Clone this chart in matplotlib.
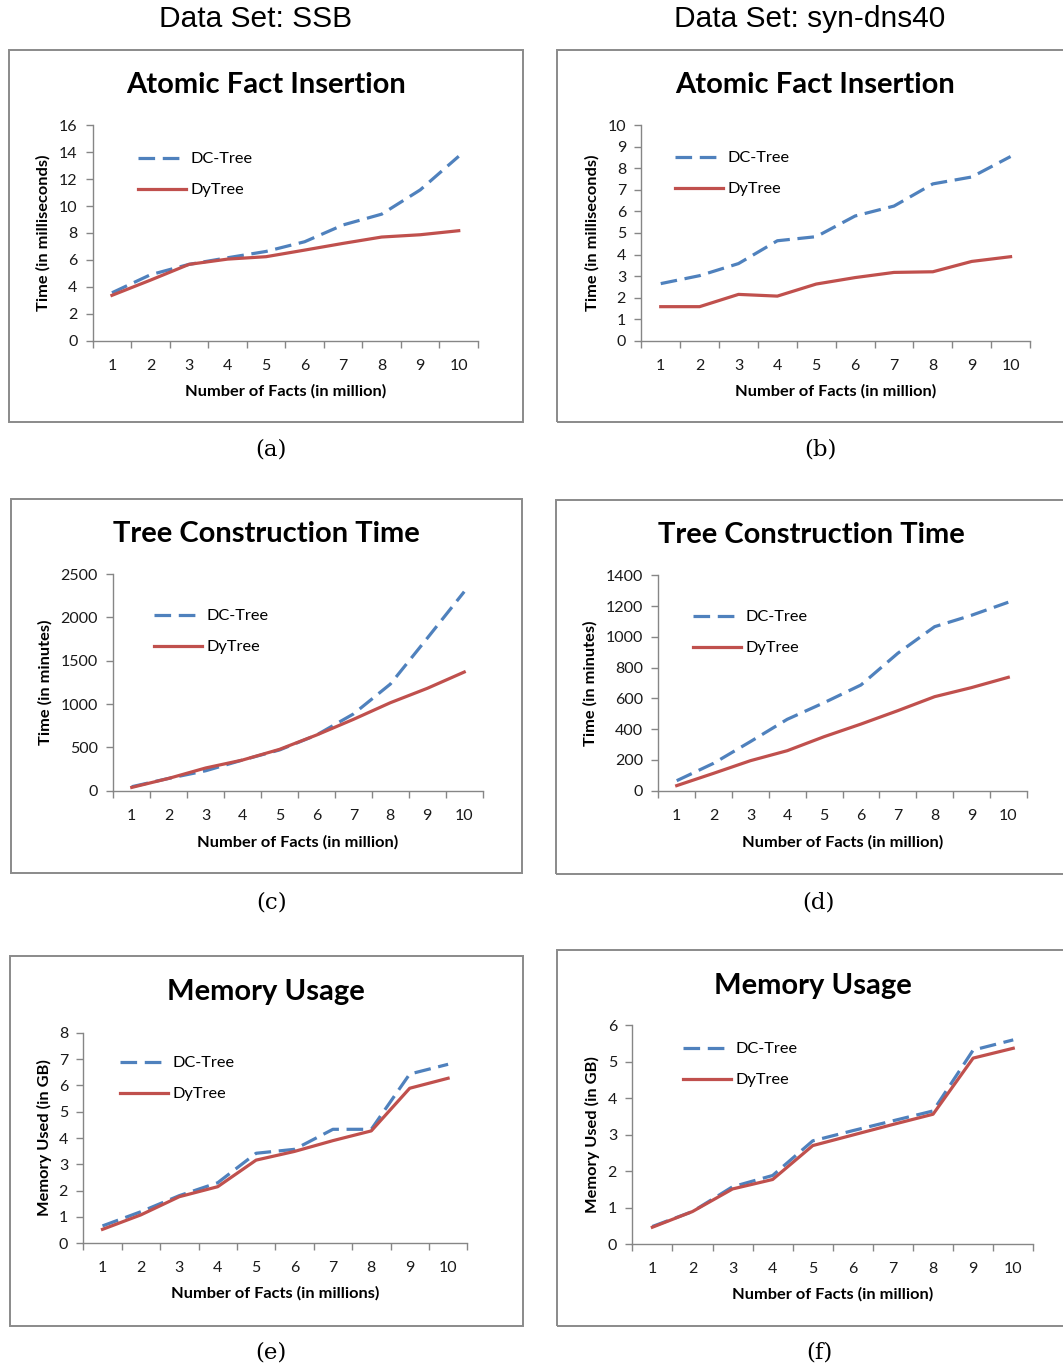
import matplotlib
matplotlib.use("Agg")
import matplotlib.pyplot as plt
from matplotlib.patches import Rectangle

# ---------------- data ----------------
facts = [1, 2, 3, 4, 5, 6, 7, 8, 9, 10]
tick_labels = ["1", "2", "3", "4", "5", "6", "7", "8", "9", "10"]

ssb_insert_dc = [3.56, 4.9, 5.67, 6.16, 6.63, 7.35, 8.6, 9.4, 11.2, 13.7]
ssb_insert_dy = [3.37, 4.5, 5.67, 6.06, 6.24, 6.73, 7.23, 7.7, 7.87, 8.17]

dns_insert_dc = [2.65, 3.02, 3.58, 4.64, 4.83, 5.79, 6.25, 7.28, 7.6, 8.55]
dns_insert_dy = [1.58, 1.58, 2.15, 2.07, 2.63, 2.93, 3.17, 3.2, 3.68, 3.9]

ssb_build_dc = [46, 142, 230, 354, 470, 642, 885, 1230, 1760, 2296]
ssb_build_dy = [38, 142, 262, 354, 477, 642, 823, 1015, 1181, 1369]

dns_build_dc = [65, 178, 319, 464, 572, 687, 893, 1066, 1140, 1225]
dns_build_dy = [33, 113, 195, 260, 351, 433, 520, 611, 670, 737]

ssb_mem_dc = [0.66, 1.2, 1.81, 2.3, 3.42, 3.57, 4.33, 4.33, 6.43, 6.8]
ssb_mem_dy = [0.53, 1.08, 1.77, 2.15, 3.16, 3.49, 3.9, 4.27, 5.89, 6.27]

dns_mem_dc = [0.48, 0.89, 1.57, 1.88, 2.83, 3.11, 3.38, 3.65, 5.32, 5.6]
dns_mem_dy = [0.46, 0.89, 1.51, 1.77, 2.7, 2.99, 3.28, 3.56, 5.1, 5.37]

series_names = ["DC-Tree", "DyTree"]
column_titles = ["Data Set: SSB", "Data Set: syn-dns40"]
captions = ["(a)", "(b)", "(c)", "(d)", "(e)", "(f)"]

# ---------------- layout ----------------
W, H = 1063, 1370
fig = plt.figure(figsize=(W / 100, H / 100), dpi=100)
fig.patch.set_facecolor("white")

def fx(x):
    return x / W

def fy(y):
    return 1 - y / H

AX_COLOR = "#868686"
BLUE = "#4F81BD"
RED = "#C0504D"
FONT = ["Lato", "DejaVu Sans"]
TICK_FS = 11.5
LAB_FS = 11.8
LEG_FS = 11.8

panels = [
    dict(frame=(9, 50, 523, 422), ax=(92.7, 478, 125.3, 340.7), ymax=16, step=2,
         dc=ssb_insert_dc, dy=ssb_insert_dy, title="Atomic Fact Insertion", tpos=(266, 85),
         ylabel="Time (in milliseconds)", ylx=43, xlabel="Number of Facts (in million)",
         xly=391, leg=(138, 158), cap=(271, 450)),
    dict(frame=(557, 50, 1068, 422), ax=(641.3, 1030, 125.3, 340.7), ymax=10, step=1,
         dc=dns_insert_dc, dy=dns_insert_dy, title="Atomic Fact Insertion", tpos=(815, 85),
         ylabel="Time (in milliseconds)", ylx=592, xlabel="Number of Facts (in million)",
         xly=391, leg=(675, 157), cap=(820, 450)),
    dict(frame=(11, 499, 522, 873), ax=(113.3, 482.7, 574, 790.7), ymax=2500, step=500,
         dc=ssb_build_dc, dy=ssb_build_dy, title="Tree Construction Time", tpos=(266, 534),
         ylabel="Time (in minutes)", ylx=45, xlabel="Number of Facts (in million)",
         xly=842, leg=(154, 615), cap=(272, 902)),
    dict(frame=(556, 500, 1068, 874), ax=(658.3, 1026.7, 575.3, 790.7), ymax=1400, step=200,
         dc=dns_build_dc, dy=dns_build_dy, title="Tree Construction Time", tpos=(811, 535),
         ylabel="Time (in minutes)", ylx=590, xlabel="Number of Facts (in million)",
         xly=842, leg=(693, 616), cap=(818, 902)),
    dict(frame=(10, 956, 523, 1326), ax=(83.3, 467.3, 1032.7, 1243.3), ymax=8, step=1,
         dc=ssb_mem_dc, dy=ssb_mem_dy, title="Memory Usage", tpos=(266, 992),
         ylabel="Memory Used (in GB)", ylx=44, xlabel="Number of Facts (in millions)",
         xly=1293, leg=(120, 1062), cap=(271, 1353)),
    dict(frame=(557, 950, 1068, 1326), ax=(632.3, 1033.3, 1025.3, 1244), ymax=6, step=1,
         dc=dns_mem_dc, dy=dns_mem_dy, title="Memory Usage", tpos=(813, 986),
         ylabel="Memory Used (in GB)", ylx=592, xlabel="Number of Facts (in million)",
         xly=1294, leg=(683, 1048), cap=(819, 1353)),
]

# column titles
fig.text(fx(256), fy(19), column_titles[0], ha="center", va="center",
         fontsize=21.5, family=["Liberation Sans", "DejaVu Sans"])
fig.text(fx(810), fy(19), column_titles[1], ha="center", va="center",
         fontsize=21.5, family=["Liberation Sans", "DejaVu Sans"])

for i, p in enumerate(panels):
    x0, y0, x1, y1 = p["frame"]
    fig.add_artist(Rectangle((fx(x0), fy(y1)), fx(x1) - fx(x0), fy(y0) - fy(y1),
                             transform=fig.transFigure, fill=False,
                             edgecolor="#8a8a8a", linewidth=1.4, zorder=0))
    l, r, t, b = p["ax"]
    ax = fig.add_axes([fx(l), fy(b), fx(r) - fx(l), fy(t) - fy(b)])
    ax.set_facecolor("none")
    ax.plot(facts, p["dc"], color=BLUE, lw=2.3, dashes=(5.2, 2.4), label=series_names[0],
            dash_capstyle="butt")
    ax.plot(facts, p["dy"], color=RED, lw=2.3, label=series_names[1])
    ax.set_xlim(0.5, 10.5)
    ax.set_ylim(0, p["ymax"])
    yt = list(range(0, p["ymax"] + 1, p["step"]))
    ax.set_yticks(yt)
    ax.set_yticklabels([str(v) for v in yt])
    ax.set_xticks([k + 0.5 for k in range(0, 11)])
    ax.set_xticklabels([])
    ax.set_xticks(facts, minor=True)
    ax.set_xticklabels(tick_labels, minor=True)
    ax.tick_params(axis="x", which="major", length=5, width=1, color=AX_COLOR, direction="out")
    ax.tick_params(axis="x", which="minor", length=0, pad=13, labelsize=TICK_FS, labelcolor="#1a1a1a")
    ax.tick_params(axis="y", which="major", length=5, width=1, color=AX_COLOR, direction="out",
                   pad=6, labelsize=TICK_FS, labelcolor="#1a1a1a")
    for lab in ax.get_xticklabels(minor=True) + ax.get_yticklabels():
        lab.set_family(FONT)
    for s in ["top", "right"]:
        ax.spines[s].set_visible(False)
    for s in ["left", "bottom"]:
        ax.spines[s].set_color(AX_COLOR)
        ax.spines[s].set_linewidth(1)

    fig.text(fx(p["tpos"][0]), fy(p["tpos"][1]), p["title"], ha="center", va="center",
             fontsize=21, fontweight="bold", family=FONT, color="black")
    fig.text(fx(p["ylx"]), (fy(t) + fy(b)) / 2, p["ylabel"], ha="center", va="center",
             rotation=90, fontsize=LAB_FS, fontweight="bold", family=FONT, color="black")
    fig.text((fx(l) + fx(r)) / 2, fy(p["xly"]), p["xlabel"], ha="center", va="center",
             fontsize=LAB_FS, fontweight="bold", family=FONT, color="black")
    fig.text(fx(p["cap"][0]), fy(p["cap"][1]), captions[i], ha="center", va="center",
             fontsize=16.5, family=["DejaVu Serif"], color="black")

    lx, ly = p["leg"]
    ax.legend(loc="upper left", bbox_to_anchor=(fx(lx), fy(ly - 6)), bbox_transform=fig.transFigure,
              frameon=False, handlelength=2.9, handletextpad=0.3, labelspacing=1.0,
              borderpad=0, borderaxespad=0, prop=dict(family=FONT, size=LEG_FS))

fig.savefig("out.png", dpi=100, facecolor="white")
